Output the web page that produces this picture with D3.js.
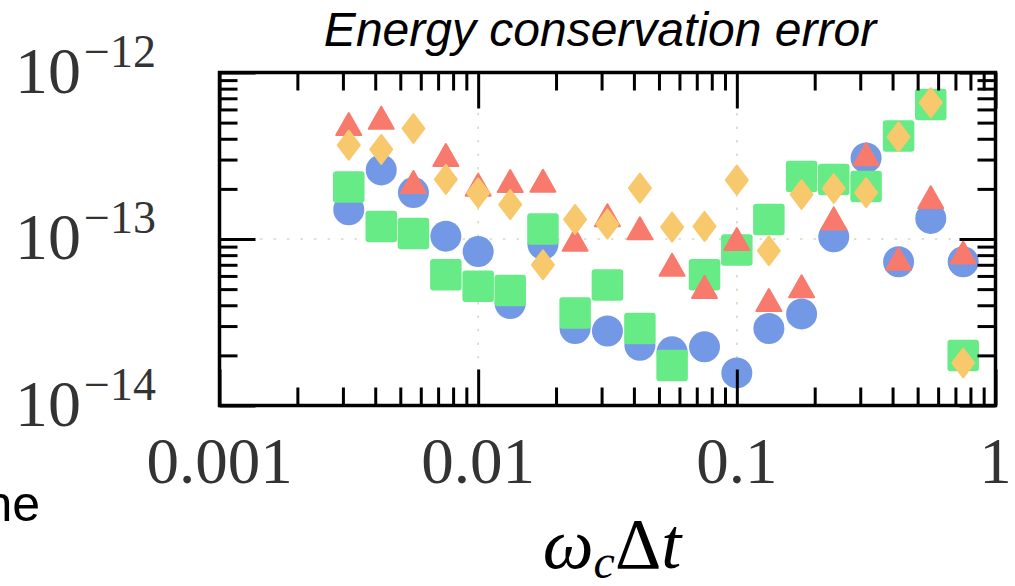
<!DOCTYPE html>
<html><head><meta charset="utf-8">
<script src="https://cdn.jsdelivr.net/npm/d3@7"></script>
<style>body{margin:0;background:#fff}svg{display:block}</style>
</head><body><svg id="c" width="1015" height="586"></svg>
<script>
// ---- data ----
const xValues = [0.00316, 0.00422, 0.00562, 0.0075, 0.01, 0.0133, 0.0178, 0.0237, 0.0316, 0.0422,
                 0.0562, 0.075, 0.1, 0.133, 0.178, 0.237, 0.316, 0.422, 0.562, 0.75];
const circleValues = [1.5e-13, 2.6e-13, 1.9e-13, 1.04e-13, 8.4e-14, 4.1e-14, 9.3e-14, 2.9e-14, 2.8e-14, 2.3e-14,
                      2.1e-14, 2.25e-14, 1.57e-14, 2.9e-14, 3.55e-14, 1.03e-13, 3.07e-13, 7.3e-14, 1.33e-13, 7.3e-14];
const squareValues = [2.05e-13, 1.19e-13, 1.08e-13, 6.1e-14, 5.2e-14, 4.9e-14, 1.15e-13, 3.6e-14, 5.3e-14, 2.9e-14,
                      1.74e-14, 6.1e-14, 8.6e-14, 1.31e-13, 2.37e-13, 2.28e-13, 2.07e-13, 4.15e-13, 6.42e-13, 2.0e-14];
const triangleValues = [4.9e-13, 5.35e-13, 2.2e-13, 3.19e-13, 2.12e-13, 2.23e-13, 2.24e-13, 9.9e-14, 1.39e-13, 1.16e-13,
                        7.0e-14, 5.15e-14, 1.0e-13, 4.3e-14, 5.2e-14, 1.33e-13, 3.23e-13, 7.6e-14, 1.78e-13, 8.3e-14];
const diamondValues = [3.66e-13, 3.45e-13, 4.61e-13, 2.28e-13, 1.89e-13, 1.61e-13, 7.0e-14, 1.31e-13, 1.23e-13, 2.02e-13,
                       1.18e-13, 1.19e-13, 2.26e-13, 8.5e-14, 1.85e-13, 2.01e-13, 1.90e-13, 4.11e-13, 6.6e-13, 1.8e-14];
const xMajor = [0.001, 0.01, 0.1, 1];
const xTickLabels = ["0.001", "0.01", "0.1", "1"];
const yMajor = [1e-14, 1e-13, 1e-12];
const yTickExponents = ["\u221214", "\u221213", "\u221212"];
const xGrid = [0.01, 0.1];
const yGrid = [1e-13];

// ---- layout ----
const svg = d3.select("#c");
const L = 219.5, R = 995.5, T = 72.5, B = 405.5;
const x = d3.scaleLog().domain([0.001, 1]).range([L, R]);
const y = d3.scaleLog().domain([1e-14, 1e-12]).range([B, T]);
const serif = "'Liberation Serif','Times New Roman',serif";
const sans = "'Liberation Sans',Arial,sans-serif";

// gridlines
const grid = svg.append("g").attr("stroke", "#d9d9c3").attr("stroke-width", 1.6).attr("stroke-dasharray", "2.5 11");
grid.selectAll("line.v").data(xGrid).join("line").attr("class", "v")
  .attr("x1", d => x(d)).attr("x2", d => x(d)).attr("y1", T).attr("y2", B);
grid.selectAll("line.h").data(yGrid).join("line").attr("class", "h")
  .attr("x1", L).attr("x2", R).attr("y1", d => y(d)).attr("y2", d => y(d));

// markers
const pts = vals => xValues.map((xv, i) => ({ x: xv, y: vals[i] }));
const gm = svg.append("g");
gm.append("g").selectAll("circle").data(pts(circleValues)).join("circle")
  .attr("cx", d => x(d.x)).attr("cy", d => y(d.y)).attr("r", 15.5).attr("fill", "#7399e6");
gm.append("g").selectAll("rect").data(pts(squareValues)).join("rect")
  .attr("x", d => x(d.x) - 15.75).attr("y", d => y(d.y) - 15.75).attr("width", 31.5).attr("height", 31.5)
  .attr("rx", 3).attr("fill", "#66eb86");
gm.append("g").selectAll("path").data(pts(triangleValues)).join("path")
  .attr("transform", d => `translate(${x(d.x)},${y(d.y)})`)
  .attr("d", "M0,-11L12.5,11L-12.5,11Z").attr("fill", "#f87a6d").attr("stroke", "#f87a6d")
  .attr("stroke-width", 2).attr("stroke-linejoin", "round");
gm.append("g").selectAll("path").data(pts(diamondValues)).join("path")
  .attr("transform", d => `translate(${x(d.x)},${y(d.y)})`)
  .attr("d", "M0,-14.5L11,0L0,14.5L-11,0Z").attr("fill", "#f8c86c").attr("stroke", "#f8c86c")
  .attr("stroke-width", 2).attr("stroke-linejoin", "round");

// ticks
const xAll = x.ticks();
const xMinor = xAll.filter(t => !xMajor.some(m => Math.abs(t / m - 1) < 1e-6));
const yAll = y.ticks();
const yMinor = yAll.filter(t => !yMajor.some(m => Math.abs(t / m - 1) < 1e-6));
function ticks(axisFn, scale, values, size, tr) {
  svg.append("g").attr("transform", tr)
    .call(axisFn(scale).tickValues(values).tickSize(size).tickFormat(""))
    .call(g => g.select(".domain").remove())
    .selectAll("line").attr("stroke", "#000").attr("stroke-width", 3);
}
ticks(d3.axisTop, x, xMinor, 18, `translate(0,${B})`);
ticks(d3.axisTop, x, xMajor, 36, `translate(0,${B})`);
ticks(d3.axisBottom, x, xMinor, 18, `translate(0,${T})`);
ticks(d3.axisBottom, x, xMajor, 36, `translate(0,${T})`);
ticks(d3.axisRight, y, yMinor, 18, `translate(${L},0)`);
ticks(d3.axisRight, y, yMajor, 36, `translate(${L},0)`);
ticks(d3.axisLeft, y, yMinor, 18, `translate(${R},0)`);
ticks(d3.axisLeft, y, yMajor, 36, `translate(${R},0)`);

// frame
svg.append("rect").attr("x", L).attr("y", T).attr("width", R - L).attr("height", B - T)
  .attr("fill", "none").attr("stroke", "#000").attr("stroke-width", 3.5);

// x tick labels
svg.append("g").selectAll("text").data(xMajor).join("text")
  .attr("x", d => x(d)).attr("y", 483).attr("text-anchor", "middle")
  .attr("font-family", serif).attr("font-size", 65).attr("fill", "#333")
  .text((d, i) => xTickLabels[i]);

// y tick labels
const yl = svg.append("g").selectAll("text").data(yMajor).join("text")
  .attr("x", 156).attr("y", d => y(d) + 20).attr("text-anchor", "end")
  .attr("font-family", serif).attr("fill", "#333");
yl.append("tspan").attr("font-size", 66).text("10");
yl.append("tspan").attr("font-size", 46).attr("dx", 3).attr("dy", -26).text((d, i) => yTickExponents[i]);

// title
svg.append("text").attr("x", 600).attr("y", 46).attr("text-anchor", "middle")
  .attr("font-family", sans).attr("font-style", "italic").attr("font-size", 48).attr("fill", "#000")
  .text("Energy conservation error");

// x axis title
const xt = svg.append("text").attr("x", 612).attr("y", 568).attr("text-anchor", "middle")
  .attr("font-family", serif).attr("font-size", 72).attr("fill", "#000");
xt.append("tspan").attr("font-style", "italic").text("\u03C9");
xt.append("tspan").attr("font-style", "italic").attr("font-size", 48).attr("dy", 10).text("c");
xt.append("tspan").attr("dy", -10).text("\u0394");
xt.append("tspan").attr("font-style", "italic").text("t");

// cropped side text (cut at the left edge, as in the reference)
svg.append("text").attr("x", 40).attr("y", 521).attr("text-anchor", "end")
  .attr("font-family", sans).attr("font-size", 50).attr("fill", "#000").text("ne");
</script>
</body></html>
